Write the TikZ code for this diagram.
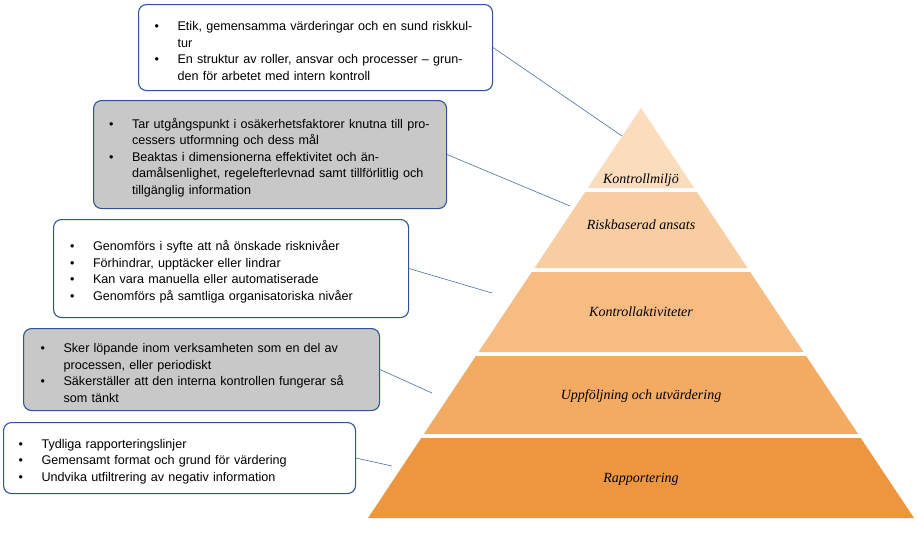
\documentclass[tikz,border=0pt]{standalone}
\usepackage{fontspec}
\setmainfont{Liberation Sans}
\newfontfamily\serifit{Liberation Serif}
\newcommand{\bitem}[1]{\par\hangindent=23pt\hangafter=1\noindent\makebox[23pt][l]{\textbullet}#1\par}
\begin{document}
\begin{tikzpicture}[x=1pt,y=-1pt,
  bx/.style={draw=bordblue,line width=1.1pt,rounded corners=8pt,anchor=north west,align=left,
    font=\fontsize{12.6}{16.5}\selectfont\raggedright,inner xsep=11pt,inner ysep=0pt},
  lbl/.style={font=\serifit\itshape\fontsize{14}{16}\selectfont},
  con/.style={draw=linkblue,line width=0.6pt}]
\definecolor{bordblue}{HTML}{2F5597}
\definecolor{linkblue}{HTML}{4A6FA5}
\definecolor{l1}{HTML}{FBDDBE}
\definecolor{l2}{HTML}{F9CDA2}
\definecolor{l3}{HTML}{F6BC82}
\definecolor{l4}{HTML}{F3AA62}
\definecolor{l5}{HTML}{EE9540}
\definecolor{gbox}{HTML}{C8C8C8}
\useasboundingbox (0,0) rectangle (918,538);
\fill[l1] (641,108) -- (694.3,188) -- (587.7,188) -- cycle;
\fill[l2] (585.1,192) -- (696.9,192) -- (747.5,268) -- (534.5,268) -- cycle;
\fill[l3] (531.8,272) -- (750.2,272) -- (803.5,352) -- (478.5,352) -- cycle;
\fill[l4] (475.9,356) -- (806.1,356) -- (858.1,434) -- (423.9,434) -- cycle;
\fill[l5] (421.3,438) -- (860.7,438) -- (914,518) -- (368,518) -- cycle;
\node[lbl] (p1) at (641,180) {Kontrollmiljö};
\node[lbl] (p2) at (641,225) {Riskbaserad ansats};
\node[lbl] (p3) at (641,312) {Kontrollaktiviteter};
\node[lbl] (p4) at (641,396) {Uppföljning och utvärdering};
\node[lbl] (p5) at (641,479) {Rapportering};
\coordinate (c1) at (622,136);
\coordinate (c2) at (570,206);
\coordinate (c3) at (492,293);
\coordinate (c4) at (432,393);
\coordinate (c5) at (392,466);
\node[bx,fill=white,minimum width=354pt,minimum height=86pt,text width=322pt] (b1) at (138,4)
 {\bitem{Etik, gemensamma värderingar och en sund riskkultur}\bitem{En struktur av roller, ansvar och processer – grunden för arbetet med intern kontroll}};
\node[bx,fill=gbox,minimum width=353pt,minimum height=108pt,text width=322pt] (b2) at (93,100)
 {\bitem{Tar utgångspunkt i osäkerhetsfaktorer knutna till processers utformning och dess mål}\bitem{Beaktas i dimensionerna effektivitet och ändamålsenlighet, regelefterlevnad samt tillförlitlig och tillgänglig information}};
\node[bx,fill=white,minimum width=355pt,minimum height=98pt,text width=322pt] (b3) at (53,219)
 {\bitem{Genomförs i syfte att nå önskade risknivåer}\bitem{Förhindrar, upptäcker eller lindrar}\bitem{Kan vara manuella eller automatiserade}\bitem{Genomförs på samtliga organisatoriska nivåer}};
\node[bx,fill=gbox,minimum width=356pt,minimum height=82pt,text width=322pt] (b4) at (23,328)
 {\bitem{Sker löpande inom verksamheten som en del av processen, eller periodiskt}\bitem{Säkerställer att den interna kontrollen fungerar så som tänkt}};
\node[bx,fill=white,minimum width=352pt,minimum height=71pt,text width=322pt] (b5) at (3,422)
 {\bitem{Tydliga rapporteringslinjer}\bitem{Gemensamt format och grund för värdering}\bitem{Undvika utfiltrering av negativ information}};
\draw[con] (b1.east) -- (c1);
\draw[con] (b2.east) -- (c2);
\draw[con] (b3.east) -- (c3);
\draw[con] (b4.east) -- (c4);
\draw[con] (b5.east) -- (c5);
\end{tikzpicture}
\end{document}
